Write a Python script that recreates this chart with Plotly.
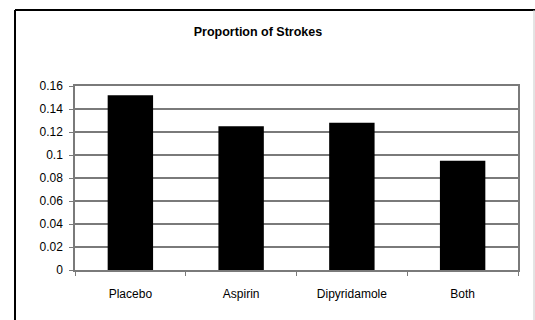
import plotly.graph_objects as go

# Stroke proportions by treatment group
treatments = ["Placebo", "Aspirin", "Dipyridamole", "Both"]
stroke_proportion = [0.152, 0.125, 0.128, 0.095]
y_tick_values = [0, 0.02, 0.04, 0.06, 0.08, 0.1, 0.12, 0.14, 0.16]
y_tick_labels = ["0", "0.02", "0.04", "0.06", "0.08", "0.1", "0.12", "0.14", "0.16"]

W, H = 535, 320
L, R, T, B = 75, 17, 86, 50
plot_w = W - L - R
plot_h = H - T - B


def px_x(x):
    return (x - L) / plot_w


def px_y(y):
    return (H - B - y) / plot_h


fig = go.Figure(
    go.Bar(
        x=treatments,
        y=stroke_proportion,
        marker=dict(color="black", line=dict(width=0)),
    )
)

font = "Liberation Sans, Arial, sans-serif"
grey = "#7a7a7a"

fig.update_layout(
    width=W,
    height=H,
    margin=dict(l=L, r=R, t=T, b=B),
    paper_bgcolor="white",
    plot_bgcolor="white",
    bargap=0.59,
    showlegend=False,
    title=dict(
        text="<b>Proportion of Strokes</b>",
        x=px_x(258),
        xref="paper",
        xanchor="center",
        y=1 - 32 / H,
        yanchor="middle",
        font=dict(family=font, size=12.5, color="black"),
    ),
    xaxis=dict(
        type="category",
        showgrid=False,
        showline=True,
        linecolor=grey,
        linewidth=1.5,
        mirror=True,
        ticks="outside",
        tickson="boundaries",
        ticklen=4,
        tickcolor=grey,
        ticklabelstandoff=12,
        tickfont=dict(family=font, size=12, color="black"),
    ),
    yaxis=dict(
        range=[0, 0.16],
        tickvals=y_tick_values,
        ticktext=y_tick_labels,
        showgrid=True,
        gridcolor=grey,
        gridwidth=1.5,
        zeroline=False,
        showline=True,
        linecolor=grey,
        linewidth=1.5,
        mirror=True,
        ticks="outside",
        ticklen=4,
        tickcolor=grey,
        ticklabelstandoff=4,
        tickfont=dict(family=font, size=12, color="black"),
    ),
    shapes=[
        # outer chart frame
        dict(type="line", xref="paper", yref="paper",
             x0=px_x(15), x1=px_x(536), y0=px_y(10), y1=px_y(10),
             line=dict(color="black", width=2)),
        dict(type="line", xref="paper", yref="paper",
             x0=px_x(15), x1=px_x(15), y0=px_y(10), y1=px_y(330),
             line=dict(color="black", width=2)),
        dict(type="line", xref="paper", yref="paper",
             x0=px_x(534), x1=px_x(534), y0=px_y(10), y1=px_y(330),
             line=dict(color="#c8c8c8", width=1)),
    ],
)

fig.write_html("out.html")
